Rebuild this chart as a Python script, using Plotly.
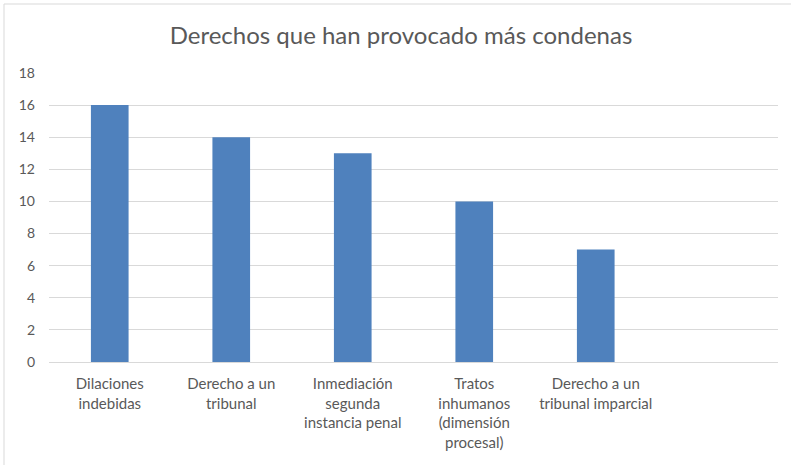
import plotly.graph_objects as go

categories = ["Dilaciones<br>indebidas", "Derecho a un<br>tribunal", "Inmediación<br>segunda<br>instancia penal",
              "Tratos<br>inhumanos<br>(dimensión<br>procesal)", "Derecho a un<br>tribunal imparcial", " "]
values = [16, 14, 13, 10, 7, None]
title = "Derechos que han provocado más condenas"
yticks = [0, 2, 4, 6, 8, 10, 12, 14, 16, 18]

W, H = 791, 465
L, R, T, B = 49, 13, 73, 103
pw, ph = W - L - R, H - T - B

fig = go.Figure(go.Bar(x=categories, y=values, marker=dict(color="#4f81bd", line=dict(width=0)), width=0.31,
                       hoverinfo="skip"))

font = "Lato, 'Open Sans', sans-serif"
fig.update_layout(
    width=W, height=H, margin=dict(l=L, r=R, t=T, b=B),
    paper_bgcolor="white", plot_bgcolor="white", showlegend=False,
    title=dict(text=title, x=401 / W, xanchor="center", xref="container", y=1 - 36 / H, yanchor="middle",
               font=dict(family=font, size=24, color="#595959")),
    xaxis=dict(type="category", range=[-0.5, 5.5], showgrid=False, showline=True, linecolor="#d9d9d9",
               linewidth=1, ticks="", tickfont=dict(family=font, size=15, color="#595959"), tickangle=0,
               ticklabelstandoff=8),
    yaxis=dict(range=[0, 18], tickvals=yticks, showgrid=True, gridcolor="#d9d9d9", gridwidth=1,
               zeroline=False, showline=False, ticks="", ticklen=0, ticklabelstandoff=13,
               tickfont=dict(family=font, size=14, color="#595959")),
)

# outer chart frame (top and left edges visible)
x0 = (4 - L) / pw
x1 = (W - L) / pw
ytop = 1 + (T - 4) / ph
ybot = -(H - (T + ph)) / ph
fig.add_shape(type="line", xref="paper", yref="paper", x0=x0, x1=x1, y0=ytop, y1=ytop,
              line=dict(color="#d9d9d9", width=1))
fig.add_shape(type="line", xref="paper", yref="paper", x0=x0, x1=x0, y0=ybot, y1=ytop,
              line=dict(color="#d9d9d9", width=1))

fig.write_html("out.html", config={"displayModeBar": False},
               post_script="document.body.style.margin='0';document.body.style.padding='0';")
